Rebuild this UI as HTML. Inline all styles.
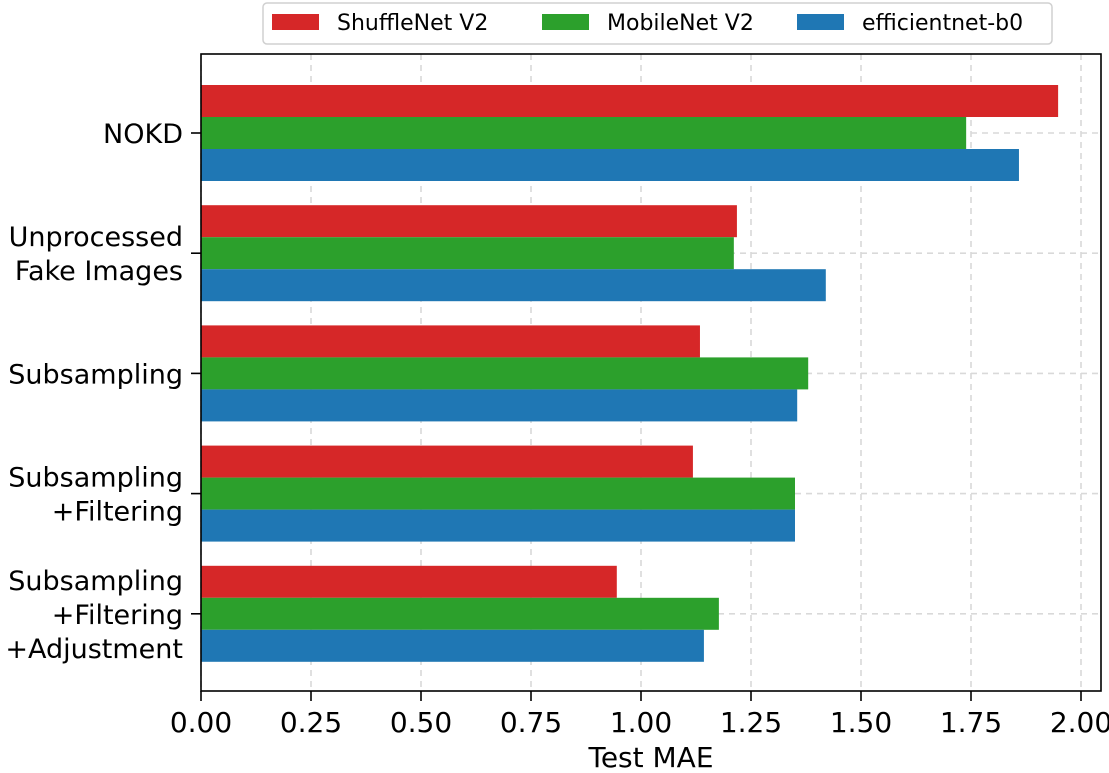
<!DOCTYPE html>
<html><head><meta charset="utf-8"><style>
html,body{margin:0;padding:0;background:#fff;}
svg{display:block;font-family:"DejaVu Sans","Liberation Sans",sans-serif;}
</style></head><body>
<svg id="chart" width="1109" height="773" viewBox="0 0 1109 773"></svg>
<script>
const categories = ["NOKD", "Unprocessed\nFake Images", "Subsampling", "Subsampling\n+Filtering", "Subsampling\n+Filtering\n+Adjustment"];
const seriesNames = ["ShuffleNet V2", "MobileNet V2", "efficientnet-b0"];
const shuffleVals = [1.948, 1.218, 1.134, 1.118, 0.945];
const mobileVals = [1.739, 1.211, 1.380, 1.350, 1.177];
const effVals = [1.859, 1.420, 1.355, 1.350, 1.143];
const xTicks = [0, 0.25, 0.5, 0.75, 1.0, 1.25, 1.5, 1.75, 2.0];
const colors = ["#d62728", "#2ca02c", "#1f77b4"];

const NS = "http://www.w3.org/2000/svg";
const svg = document.getElementById("chart");
const L = 201, R = 1101, T = 54, B = 691;
const xs = v => L + v * 440;
const groupCenter = i => 133 + i * 120.2;
const barH = 32;
function mk(tag, attrs, parent) {
  const e = document.createElementNS(NS, tag);
  for (const k in attrs) e.setAttribute(k, attrs[k]);
  (parent || svg).appendChild(e);
  return e;
}
xTicks.forEach((t, i) => {
  const g = mk("line", {x1: xs(t), x2: xs(t), y1: T, y2: B, stroke: "#d9d9d9", "stroke-width": 1.6, "stroke-dasharray": "6,5"});
  
  
});
categories.forEach((c, i) => {
  const g = mk("line", {x1: L, x2: R, y1: groupCenter(i), y2: groupCenter(i), stroke: "#d9d9d9", "stroke-width": 1.6, "stroke-dasharray": "6,5"});
  
  
});
const allVals = [shuffleVals, mobileVals, effVals];
allVals.forEach((vals, s) => {
  vals.forEach((v, i) => {
    const y = groupCenter(i) - 1.5 * barH + s * barH;
    const r = mk("rect", {x: L, y: y, width: xs(v) - L, height: barH, fill: colors[s]});
    
    
  });
});
const fr = mk("rect", {x: L, y: T, width: R - L, height: B - T, fill: "none", stroke: "#000", "stroke-width": 1.6});


xTicks.forEach(t => {
  mk("line", {x1: xs(t), x2: xs(t), y1: B, y2: B + 10, stroke: "#000", "stroke-width": 1.6});
  const tx = mk("text", {x: xs(t), y: 732, "text-anchor": "middle", "font-size": 28, fill: "#000"});
  tx.textContent = t.toFixed(2);
  
  
});
const xt = mk("text", {x: (L + R) / 2, y: 767, "text-anchor": "middle", "font-size": 28, fill: "#000"});
xt.textContent = "Test MAE";


categories.forEach((c, i) => {
  const cy = groupCenter(i);
  mk("line", {x1: L - 10, x2: L, y1: cy, y2: cy, stroke: "#000", "stroke-width": 1.6});
  const lines = c.split("\n");
  const lh = 34;
  lines.forEach((ln, j) => {
    const y = cy + (j - (lines.length - 1) / 2) * lh + 10;
    const tx = mk("text", {x: L - 18, y: y, "text-anchor": "end", "font-size": 27, fill: "#000"});
    tx.textContent = ln;
    
    
  });
});
const lg = mk("g", {});


mk("rect", {x: 263, y: 3, width: 789, height: 41, rx: 4, fill: "#fff", stroke: "#d0d0d0", "stroke-width": 1.5}, lg);
const patchX = [272, 542, 797];
seriesNames.forEach((n, s) => {
  const e = mk("g", {}, lg);
  
  
  mk("rect", {x: patchX[s], y: 14, width: 47, height: 16, fill: colors[s]}, e);
  const t = mk("text", {x: patchX[s] + 65, y: 30, "font-size": 22, fill: "#000"}, e);
  t.textContent = n;
});
</script>
</body></html>
